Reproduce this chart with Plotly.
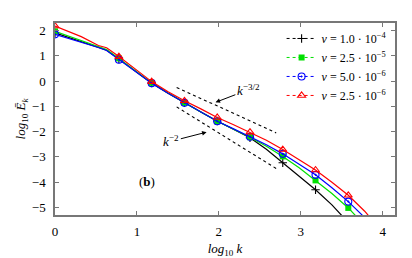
import plotly.graph_objects as go

# log10 k sample points of each spectrum
LOGK = [0, 0.32, 0.53, 0.63, 0.78, 0.98, 1.18, 1.38, 1.58, 1.78, 1.98,
        2.18, 2.38, 2.58, 2.78, 2.98, 3.18, 3.38, 3.58, 3.78, 3.98]
# indices of the points that carry a marker
MARK_IDX = [0, 4, 6, 8, 10, 12, 14, 16, 18]

E_nu1 = [1.91, 1.57, 1.34, 1.22, 0.87, 0.40, -0.08, -0.48, -0.86, -1.22, -1.58,
         -1.90, -2.24, -2.70, -3.23, -3.75, -4.30, -4.90, -5.60, -6.3, -7.0]
E_nu2 = [1.97, 1.60, 1.37, 1.25, 0.90, 0.42, -0.07, -0.47, -0.86, -1.22, -1.59,
         -1.90, -2.22, -2.58, -2.98, -3.43, -3.93, -4.45, -5.02, -5.7, -6.4]
E_nu3 = [1.85, 1.55, 1.33, 1.21, 0.85, 0.40, -0.08, -0.48, -0.86, -1.22, -1.59,
         -1.89, -2.20, -2.52, -2.88, -3.28, -3.71, -4.22, -4.77, -5.4, -6.1]
E_nu4 = [2.18, 1.76, 1.41, 1.32, 0.97, 0.48, -0.02, -0.42, -0.78, -1.10, -1.44,
         -1.73, -2.02, -2.34, -2.71, -3.10, -3.52, -4.00, -4.52, -5.15, -5.9]

LABELS = ["<i>ν</i> = 1.0 · 10<sup>−4</sup>", "<i>ν</i> = 2.5 · 10<sup>−5</sup>",
          "<i>ν</i> = 5.0 · 10<sup>−6</sup>", "<i>ν</i> = 2.5 · 10<sup>−6</sup>"]

# reference slopes k^-3/2 and k^-2 (end points)
GUIDE_X = [1.485, 2.70]
GUIDE_32 = [-0.25, -2.05]
GUIDE_2 = [-1.02, -3.46]

FONT = "Liberation Serif"
series = [
    (E_nu1, "black", dict(symbol="cross-thin", size=6, line=dict(color="black", width=1.1))),
    (E_nu2, "#00e000", dict(symbol="square", size=6, color="#00e000")),
    (E_nu3, "#0000ff", dict(symbol="circle-open-dot", size=7, color="#0000ff", line=dict(width=1.1))),
    (E_nu4, "#ff0000", dict(symbol="triangle-up-open", size=7, color="#ff0000", line=dict(width=1.1))),
]

fig = go.Figure()
for (vals, col, mk), lab in zip(series, LABELS):
    fig.add_trace(go.Scatter(x=LOGK, y=vals, mode="lines", line=dict(color=col, width=1.2),
                             showlegend=False, hoverinfo="skip"))
    fig.add_trace(go.Scatter(x=[LOGK[i] for i in MARK_IDX], y=[vals[i] for i in MARK_IDX],
                             mode="markers", marker=mk, showlegend=False))
    # legend entry: dotted line with the marker
    fig.add_trace(go.Scatter(x=[None], y=[None], mode="lines+markers", name=lab,
                             line=dict(color=col, width=1, dash="dot"), marker=mk))

for gy in (GUIDE_32, GUIDE_2):
    fig.add_trace(go.Scatter(x=GUIDE_X, y=gy, mode="lines", showlegend=False,
                             line=dict(color="black", width=1.1, dash="dot")))

fig.add_annotation(x=1.96, y=-0.84, ax=2.36, ay=-0.34, axref="x", ayref="y",
                   text="<i>k</i><sup>−3/2</sup>", showarrow=True, arrowhead=2,
                   arrowsize=0.9, arrowwidth=1, arrowcolor="black",
                   font=dict(size=13, family=FONT))
fig.add_annotation(x=1.85, y=-2.02, ax=1.42, ay=-2.38, axref="x", ayref="y",
                   text="<i>k</i><sup>−2</sup>", showarrow=True, arrowhead=2,
                   arrowsize=0.9, arrowwidth=1, arrowcolor="black",
                   font=dict(size=13, family=FONT))
fig.add_annotation(x=1.12, y=-3.97, text="(<b>b</b>)", showarrow=False,
                   font=dict(size=13, family=FONT))

axis_style = dict(showline=True, linecolor="#777", linewidth=1.5, mirror="ticks",
                  ticks="inside", ticklen=4, tickcolor="#777", showgrid=False,
                  zeroline=False, tickfont=dict(size=13, family=FONT, color="black"))
fig.update_xaxes(range=[0, 4.15], tickvals=[0, 1, 2, 3, 4], ticklabelstandoff=4,
                 title=dict(text="<i>log</i><sub>10</sub> <i>k</i>", standoff=6,
                            font=dict(size=13, family=FONT)), **axis_style)
fig.update_yaxes(range=[-5.3, 2.3], tickvals=[-5, -4, -3, -2, -1, 0, 1, 2],
                 tickformat="d", ticklabelstandoff=5,
                 title=dict(text="<i>log</i><sub>10</sub> <i>E\u0304</i><sub><i>k</i></sub>",
                            standoff=3, font=dict(size=13, family=FONT)), **axis_style)

fig.update_layout(
    width=412, height=258,
    margin=dict(l=47, r=25, t=15, b=41),
    plot_bgcolor="white", paper_bgcolor="white",
    font=dict(family=FONT, color="black"),
    legend=dict(x=0.99, y=0.995, xanchor="right", yanchor="top",
                bgcolor="rgba(0,0,0,0)", font=dict(size=12, family=FONT),
                itemwidth=30, tracegroupgap=0),
)

fig.write_html("out.html")
